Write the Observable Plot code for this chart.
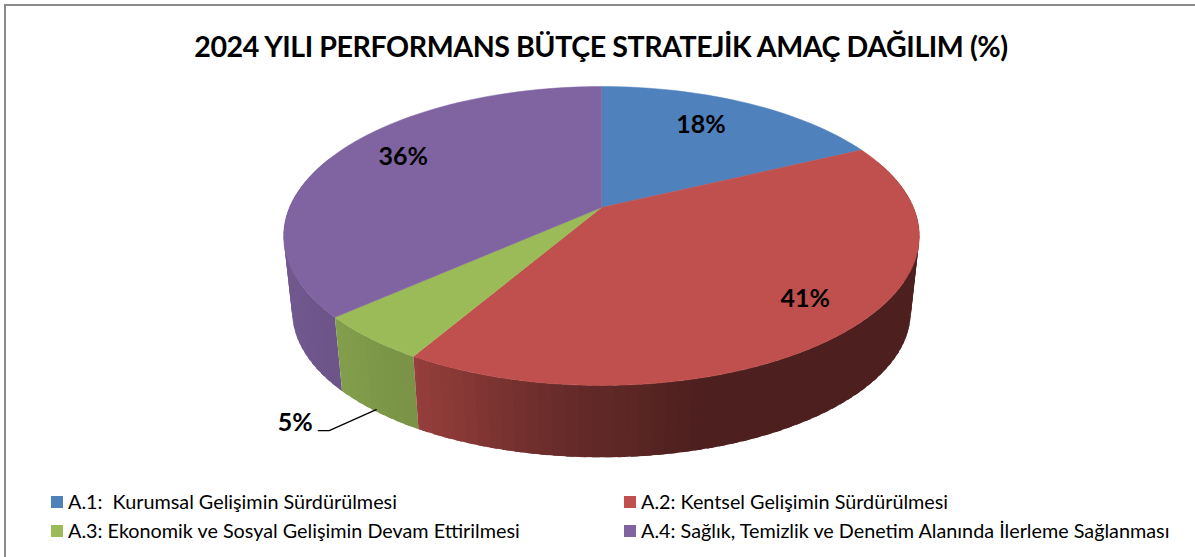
<!DOCTYPE html>
<html lang="tr">
<head>
<meta charset="utf-8">
<script src="https://cdn.jsdelivr.net/npm/d3@7"></script>
<script src="https://cdn.jsdelivr.net/npm/@observablehq/plot@0.6"></script>
<style>
html,body{margin:0;padding:0;background:#fff;overflow:hidden}
#page{position:relative;width:1195px;height:557px;font-family:Lato,"Liberation Sans",sans-serif;color:#000}
#frame{position:absolute;left:4px;top:4px;width:1191px;height:553px;border-top:2px solid #8a8a8a;border-left:2px solid #8a8a8a;box-sizing:border-box}
#title{position:absolute;left:0;top:28px;width:1202px;text-align:center;font-weight:700;font-size:28.6px;line-height:36px;letter-spacing:-0.44px;white-space:nowrap}
#chart{position:absolute;left:0;top:75px}
.lg{position:absolute;font-size:19.8px;line-height:20px;white-space:pre}
.sw{position:absolute;width:12px;height:12px}
</style>
</head>
<body>
<div id="page">
<div id="frame"></div>
<div id="title"></div>
<div id="chart"></div>
</div>
<script>
const titleText = "2024 YILI PERFORMANS BÜTÇE STRATEJİK AMAÇ DAĞILIM (%)";
const categories = [
  "A.1:  Kurumsal Gelişimin Sürdürülmesi",
  "A.2: Kentsel Gelişimin Sürdürülmesi",
  "A.3: Ekonomik ve Sosyal Gelişimin Devam Ettirilmesi",
  "A.4: Sağlık, Temizlik ve Denetim Alanında İlerleme Sağlanması"
];
const shares = [17.9, 40.5, 5.0, 36.6];      // sweep of each slice
const printed = [18, 41, 5, 36];             // the percentages printed on the chart
const colors = ["#4f81bd", "#c0504d", "#9bbb59", "#8064a2"];

// Perspective of the tilted pie: a unit disc seen through a homography.
const A = 312, B = 144, K = 0.1906, DROP = 0.027, VANISH = 2843;
const project = (turn, r = 1, low = false) => {
  const a = turn * 2 * Math.PI, u = r * Math.sin(a), v = -r * Math.cos(a), w = 1 - K * v;
  let x = A * u / w, y = B * v / w;
  if (low) { x -= DROP * x; y += DROP * (VANISH - y); }
  return {x, y};
};
const cum = d3.cumsum(shares);
const total = d3.sum(shares);
const slices = shares.map((s, i) => ({i, start: (cum[i] - s) / total, end: cum[i] / total, mid: (cum[i] - s / 2) / total}));

const shade = d3.scaleLinear().domain([-311, -183, -41, 99]).range([0.88, 0.78, 0.55, 0.40]).clamp(true);
const dim = (c, f) => { const q = d3.rgb(c); return d3.rgb(q.r * f, q.g * f, q.b * f).formatHex(); };

const wall = [], cap = [];
for (const s of slices) {
  const n = Math.max(2, Math.ceil((s.end - s.start) * 360 / 2));
  const turns = d3.range(n + 1).map(k => s.start + (s.end - s.start) * k / n);
  const step = (s.end - s.start) / n;
  turns.slice(0, -1).forEach((t, k) => {
    const depth = -Math.cos(2 * Math.PI * (t + step / 2));
    if (depth < -0.35) return;
    const t2 = Math.min(s.end, t + step * 1.6);
    wall.push({id: `w${s.i}-${k}`, depth, fill: dim(colors[s.i], shade(project(t + step / 2).x)),
      pts: [project(t), project(t2), project(t2, 1, true), project(t, 1, true)]});
  });
  const o = project(0, 0);
  cap.push(...[o, ...turns.map(t => project(t)), o].map(p => ({...p, id: `c${s.i}`, fill: colors[s.i]})));
}
wall.sort((a, b) => a.depth - b.depth);
const wallPts = wall.flatMap(q => q.pts.map(p => ({...p, id: q.id, fill: q.fill})));

// Data labels sit on each slice's mid-angle; nudged to the reference's placement.
const labelNudge = [[-13, 0], [24, 1], [0, 0], [6, -8]];
const labels = slices.filter(s => s.i !== 2).map(s => {
  const p = project(s.mid, 0.76);
  return {x: p.x + labelNudge[s.i][0], y: p.y + labelNudge[s.i][1], t: printed[s.i] + "%"};
});
const anchor = project(slices[2].mid, 1, true);
const leader = [{x: anchor.x, y: anchor.y - 2}, {x: anchor.x - 47, y: anchor.y + 19}, {x: anchor.x - 58, y: anchor.y + 19}];
const outer = [{x: anchor.x - 81, y: anchor.y + 11, t: printed[2] + "%"}];

const plot = Plot.plot({
  width: 1195, height: 400, margin: 0,
  x: {domain: [-601, 594], range: [0, 1195], axis: null},
  y: {domain: [-132, 268], range: [0, 400], axis: null},
  marks: [
    Plot.line(wallPts, {x: "x", y: "y", z: "id", fill: "fill"}),
    Plot.line(cap, {x: "x", y: "y", z: "id", fill: "fill", stroke: "fill", strokeWidth: 0.5}),
    Plot.line(leader, {x: "x", y: "y", stroke: "#000", strokeWidth: 1.3}),
    Plot.text([...labels, ...outer], {x: "x", y: "y", text: "t", fontSize: 25, fontWeight: 700, fill: "#000", fontFamily: "Lato, sans-serif"})
  ]
});
document.getElementById("chart").append(plot);
document.getElementById("title").textContent = titleText;

const page = document.getElementById("page");
categories.forEach((c, i) => {
  const col = i % 2, row = i >> 1;
  const sw = document.createElement("div");
  sw.className = "sw";
  sw.style.cssText = `left:${col ? 624 : 51}px;top:${row ? 525 : 496}px;background:${colors[i]}`;
  const t = document.createElement("div");
  t.className = "lg";
  t.textContent = c;
  t.style.cssText = `left:${col ? 641 : 68}px;top:${row ? 520 : 491}px`;
  page.append(sw, t);
});
</script>
</body>
</html>
